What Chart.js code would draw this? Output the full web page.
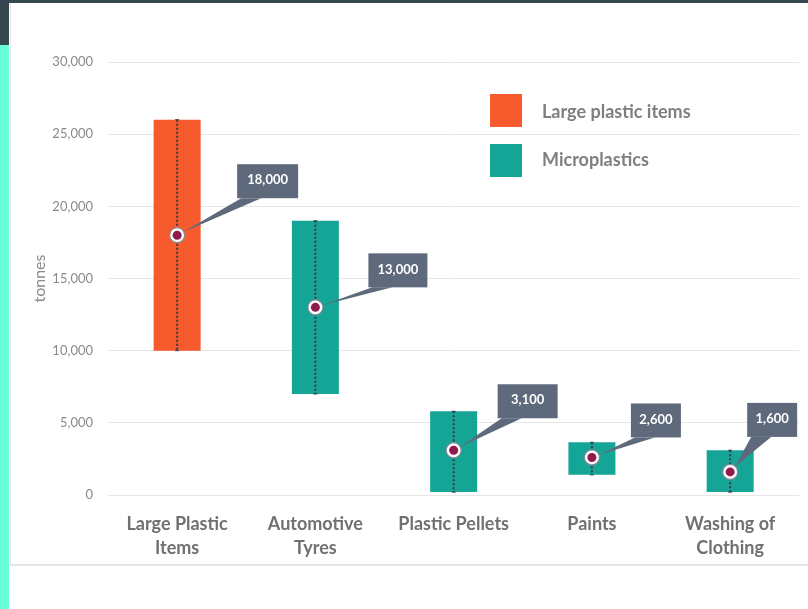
<!DOCTYPE html>
<html>
<head>
<meta charset="utf-8">
<script src="https://cdn.jsdelivr.net/npm/chart.js@4.4.1/dist/chart.umd.min.js"></script>
<style>
  body { margin: 0; background: #fff; }
  #wrap { position: relative; width: 808px; height: 609px; overflow: hidden; }
  .topbar { position: absolute; left: 0; top: 0; width: 808px; height: 3px; background: #37474f; }
  .corner { position: absolute; left: 0; top: 0; width: 9px; height: 45px; background: #37474f; }
  .stripe { position: absolute; left: 0; top: 45px; width: 9px; height: 564px; background: #66ffd9; }
  .card { position: absolute; left: 10px; top: 3px; width: 800px; height: 561px; border-left: 1px solid #e3e3e3; border-bottom: 2px solid #e6e6e6; }
  canvas { position: absolute; left: 0; top: 0; }
</style>
</head>
<body>
<div id="wrap">
  <div class="topbar"></div>
  <div class="corner"></div>
  <div class="stripe"></div>
  <div class="card"></div>
  <canvas id="myChart" width="808" height="609"></canvas>
</div>
<script>
// categories on the x axis
var categories = [['Large Plastic', 'Items'], ['Automotive', 'Tyres'], 'Plastic Pellets', 'Paints', ['Washing of', 'Clothing']];

// ranges (tonnes) [low, high]
var largeItems = [[10000, 26000], null, null, null, null];
var microplastics = [null, [7000, 19000], [200, 5800], [1400, 3650], [200, 3100]];

// central estimates
var medians = [18000, 13000, 3100, 2600, 1600];

var yTicks = [0, 5000, 10000, 15000, 20000, 25000, 30000];

// where the callout boxes sit relative to each marker (dx, dy of box bottom-left, box width)
var calloutPos = [[60, -37, 61], [53, -20, 59], [44, -32, 60], [39, -20, 50], [17, -35, 50]];

var orange = '#f75a2c';
var teal = '#14a596';

// dotted line through each bar
var whiskers = {
    id: 'whiskers',
    afterDatasetDraw: function (chart, args) {
        if (args.index > 1) return;
        var ctx = chart.ctx;
        ctx.save();
        ctx.strokeStyle = '#3a3a48';
        ctx.lineWidth = 2;
        args.meta.data.forEach(function (bar, i) {
            var raw = chart.data.datasets[args.index].data[i];
            if (!raw) return;
            var top = Math.min(bar.y, bar.base), bottom = Math.max(bar.y, bar.base);
            ctx.setLineDash([2, 2]);
            ctx.beginPath();
            ctx.moveTo(bar.x, top);
            ctx.lineTo(bar.x, bottom);
            ctx.stroke();
            ctx.setLineDash([]);
            ctx.lineWidth = 1;
            ctx.beginPath();
            ctx.moveTo(bar.x - 2, top); ctx.lineTo(bar.x + 2, top);
            ctx.moveTo(bar.x - 2, bottom); ctx.lineTo(bar.x + 2, bottom);
            ctx.stroke();
            ctx.lineWidth = 2;
        });
        ctx.restore();
    }
};

// grey value boxes pointing at the markers
var callouts = {
    id: 'callouts',
    afterDatasetsDraw: function (chart) {
        var ctx = chart.ctx;
        var pts = chart.getDatasetMeta(3).data;
        ctx.save();
        pts.forEach(function (p, i) {
            var c = calloutPos[i];
            var left = p.x + c[0], bottom = p.y + c[1], w = c[2], h = 34;
            var tipX = p.x, tipY = p.y;
            var ang = Math.atan2(bottom - tipY, left + 14 - tipX);
            tipX += Math.cos(ang) * 7;
            tipY += Math.sin(ang) * 7;
            ctx.fillStyle = '#5e6a7b';
            ctx.beginPath();
            ctx.moveTo(tipX, tipY);
            ctx.lineTo(left + 4, bottom);
            ctx.lineTo(left + 24, bottom);
            ctx.closePath();
            ctx.fill();
            ctx.fillRect(left, bottom - h, w, h);
            ctx.fillStyle = '#ffffff';
            ctx.font = 'bold 13px Lato';
            ctx.textAlign = 'center';
            ctx.textBaseline = 'middle';
            ctx.fillText(medians[i].toLocaleString('en-US'), left + w / 2, bottom - h / 2 - 1);
        });
        ctx.restore();
    }
};

// legend drawn in the upper right
var boxLegend = {
    id: 'boxLegend',
    afterDraw: function (chart) {
        var ctx = chart.ctx;
        ctx.save();
        [0, 1].forEach(function (k) {
            var ds = chart.data.datasets[k];
            ctx.fillStyle = ds.backgroundColor;
            ctx.fillRect(490, 94 + k * 50, 32, 33);
            ctx.fillStyle = '#7f7f7f';
            ctx.font = 'bold 18px Lato';
            ctx.textBaseline = 'middle';
            ctx.fillText(ds.label, 542, 112 + k * 48);
        });
        ctx.restore();
    }
};

var ctx = document.getElementById('myChart').getContext('2d');
var myChart = new Chart(ctx, {
    type: 'bar',
    data: {
        labels: categories,
        datasets: [
            { label: 'Large plastic items', data: largeItems, backgroundColor: orange, order: 4 },
            { label: 'Microplastics', data: microplastics, backgroundColor: teal, order: 3 },
            {
                type: 'line', label: 'ring', data: medians, showLine: false, order: 2,
                pointRadius: 7.5, pointBackgroundColor: '#ffffff', pointBorderColor: '#8a8a96', pointBorderWidth: 1.2
            },
            {
                type: 'line', label: 'dot', data: medians, showLine: false, order: 1,
                pointRadius: 4.5, pointBackgroundColor: '#8e1b4c', pointBorderWidth: 0
            }
        ]
    },
    options: {
        responsive: false,
        animation: false,
        skipNull: true,
        layout: { padding: { left: 10, top: 62, right: 6, bottom: 0 } },
        plugins: { legend: { display: false }, tooltip: { enabled: false } },
        datasets: { bar: { barPercentage: 0.34, categoryPercentage: 1 } },
        scales: {
            x: {
                grid: { display: false },
                border: { display: false },
                ticks: { color: '#707070', font: { family: 'Lato', size: 18, weight: 'bold', lineHeight: 1.33 }, padding: 9, maxRotation: 0 },
                afterFit: function (s) { s.height = 114; }
            },
            y: {
                min: 0, max: 30000,
                afterBuildTicks: function (s) { s.ticks = yTicks.map(function (v) { return { value: v }; }); },
                grid: { color: '#e6e6e6', drawTicks: false },
                border: { display: false },
                ticks: {
                    color: '#8a8a8a', font: { family: 'Lato', size: 13 }, padding: 15,
                    callback: function (v) { return v.toLocaleString('en-US'); }
                },
                title: { display: true, text: 'tonnes', color: '#8a8a8a', font: { family: 'Lato', size: 16 }, padding: { top: 20, bottom: 0 } },
                afterFit: function (s) { s.width = 98; }
            }
        }
    },
    plugins: [whiskers, callouts, boxLegend]
});
</script>
</body>
</html>
